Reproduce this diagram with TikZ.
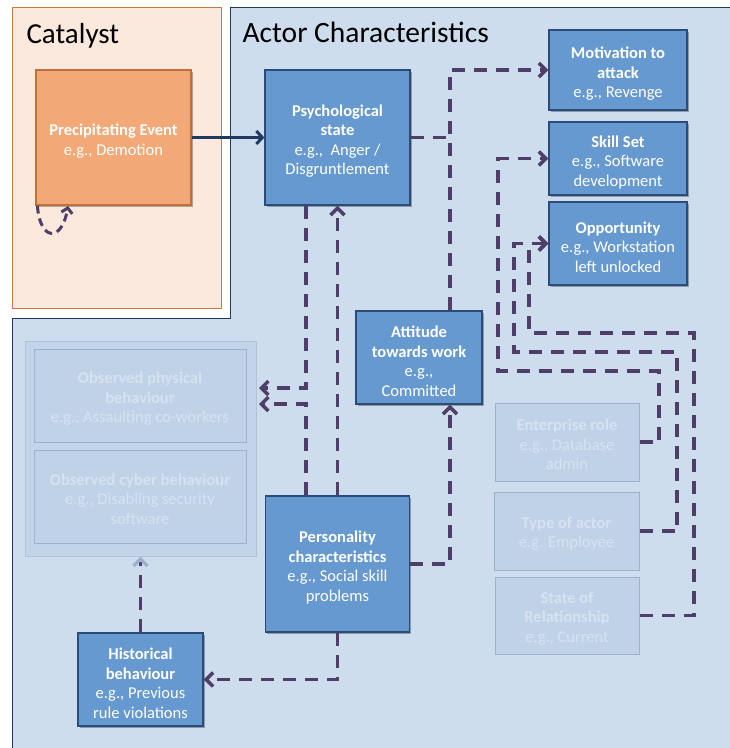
\documentclass[tikz,border=0pt]{standalone}
\usepackage{fontspec}
\setmainfont{Carlito}
\usepackage{xcolor}
\usetikzlibrary{arrows.meta,shadows}

\definecolor{peach}{HTML}{FCE9DD}
\definecolor{peachline}{HTML}{C77B45}
\definecolor{orangebox}{HTML}{F2A977}
\definecolor{orangeline}{HTML}{C0703A}
\definecolor{actorfill}{HTML}{CEDDEE}
\definecolor{navy}{HTML}{1F3960}
\definecolor{bluebox}{HTML}{6699CF}
\definecolor{blueline}{HTML}{2B4B78}
\definecolor{fadefill}{HTML}{C0D2E8}
\definecolor{fadeline}{HTML}{9DB1CC}
\definecolor{fadetext}{HTML}{D6E2F0}
\definecolor{purp}{HTML}{4F3F68}

\newcommand{\lift}{\rule{0pt}{19pt}}
\newcommand{\flift}{\rule{0pt}{17pt}}

\begin{document}
\begin{tikzpicture}[x=1pt,y=-1pt,
  blk/.style={draw=blueline,fill=bluebox,text=white,line width=1.2pt,align=center,inner sep=2pt,
    font=\fontsize{16.5}{19.5}\selectfont,
    general shadow={fill=black,opacity=.3,shadow xshift=1.5pt,shadow yshift=-2pt}},
  faded/.style={draw=fadeline,fill=fadefill,text=fadetext,line width=1pt,align=center,inner sep=2pt,
    font=\fontsize{16.5}{19.5}\selectfont},
  dashline/.style={draw=purp,line width=3.5pt,dash pattern=on 13pt off 9pt},
  tip/.style={-{Straight Barb[length=7pt,width=14pt]}}
]

\useasboundingbox (0,0) rectangle (730,748);
\fill[white] (0,0) rectangle (730,748);

\draw[draw=peachline,fill=peach,line width=1pt] (12,7) rectangle (221,308);
\draw[draw=navy,fill=actorfill,line width=1pt] (230,7) -- (740,7) -- (740,760) -- (12,760) -- (12,318) -- (230,318) -- cycle;

\node[anchor=base west,font=\fontsize{29}{32}\selectfont] (cattitle) at (23,43) {Catalyst};
\node[anchor=base west,font=\fontsize{29.5}{32}\selectfont] (actortitle) at (239,42) {Actor Characteristics};

\node[blk,draw=orangeline,fill=orangebox,minimum width=155pt,minimum height=135pt] (prec) at (113.5,137.5) {\lift\textbf{Precipitating Event}\\e.g., Demotion};
\node[blk,minimum width=145pt,minimum height=135pt] (psych) at (337.5,137.5) {\lift\textbf{Psychological}\\\textbf{state}\\e.g.,~~Anger /\\Disgruntlement};
\node[blk,minimum width=138pt,minimum height=80pt] (motiv) at (618,70) {\lift\textbf{Motivation to}\\\textbf{attack}\\e.g., Revenge};
\node[blk,minimum width=138pt,minimum height=73pt] (skill) at (618,158.5) {\lift\textbf{Skill Set}\\e.g., Software\\development};
\node[blk,minimum width=138pt,minimum height=83pt] (opport) at (618,243.5) {\lift\textbf{Opportunity}\\e.g., Workstation\\left unlocked};
\node[blk,minimum width=126pt,minimum height=93pt] (attit) at (419,357.5) {\lift\textbf{Attitude}\\\textbf{towards work}\\e.g.,\\Committed};
\node[blk,minimum width=144pt,minimum height=136pt] (pers) at (337.5,564) {\lift\textbf{Personality}\\\textbf{characteristics}\\e.g., Social skill\\problems};
\node[blk,minimum width=125pt,minimum height=93pt] (hist) at (140.5,679.5) {\lift\textbf{Historical}\\\textbf{behaviour}\\e.g., Previous\\rule violations};

\node[draw=fadeline!80,fill=fadefill!85!actorfill,line width=1pt,minimum width=231pt,minimum height=215pt] (obsbox) at (140.5,448.5) {};
\node[faded,minimum width=212pt,minimum height=93pt] (obsphys) at (140,396) {\flift\textbf{Observed physical}\\\textbf{behaviour}\\e.g., Assaulting co-workers};
\node[faded,minimum width=212pt,minimum height=93pt] (obscyber) at (140,496.5) {\flift\textbf{Observed cyber behaviour}\\e.g., Disabling security\\software};
\node[faded,minimum width=144pt,minimum height=78pt] (entrole) at (567,442) {\flift\textbf{Enterprise role}\\e.g., Database\\admin};
\node[faded,minimum width=145pt,minimum height=78pt] (typeact) at (566.5,531) {\flift\textbf{Type of actor}\\e.g. Employee};
\node[faded,minimum width=144pt,minimum height=77pt] (staterel) at (567,615.5) {\flift\textbf{State of}\\\textbf{Relationship}\\e.g., Current};

\coordinate (jx) at (450,0);
\coordinate (lx) at (306,0);

\draw[navy,line width=3pt,-{Straight Barb[length=6pt,width=13pt]}] (prec.east) -- (psych.west);
\draw[dashline,dash pattern=on 8pt off 5pt,line width=3pt,-{Straight Barb[length=5pt,width=11pt]}] ([xshift=2pt]prec.south west) .. controls (40,242) and (62,242) .. (68,206);

\draw[dashline] (psych.east) -- (psych.east -| jx);
\draw[dashline,tip] (attit.north -| jx) |- (motiv.west);

\draw[dashline,tip] (entrole.east) -| (659,371) -| (498,158.5) -- (skill.west);
\draw[dashline,tip] (typeact.east) -| (677,352) -| (514,243.5) -- (opport.west);
\draw[dashline,tip] (staterel.east) -| (694,333) -| (529,243.5) -- (opport.west);

\draw[dashline,tip] (psych.south -| lx) |- (259,388);
\draw[dashline,tip] (pers.north -| lx) |- (259,404);
\draw[dashline,tip] (pers.north) -- (psych.south);

\draw[dashline,tip] (pers.east) -| (attit.south -| jx);
\draw[dashline,tip] (pers.south) |- (hist.east);
\draw[dashline,-{Straight Barb[length=7pt,width=14pt,color=fadeline]}] (hist.north) -- (obsbox.south);

\end{tikzpicture}
\end{document}
